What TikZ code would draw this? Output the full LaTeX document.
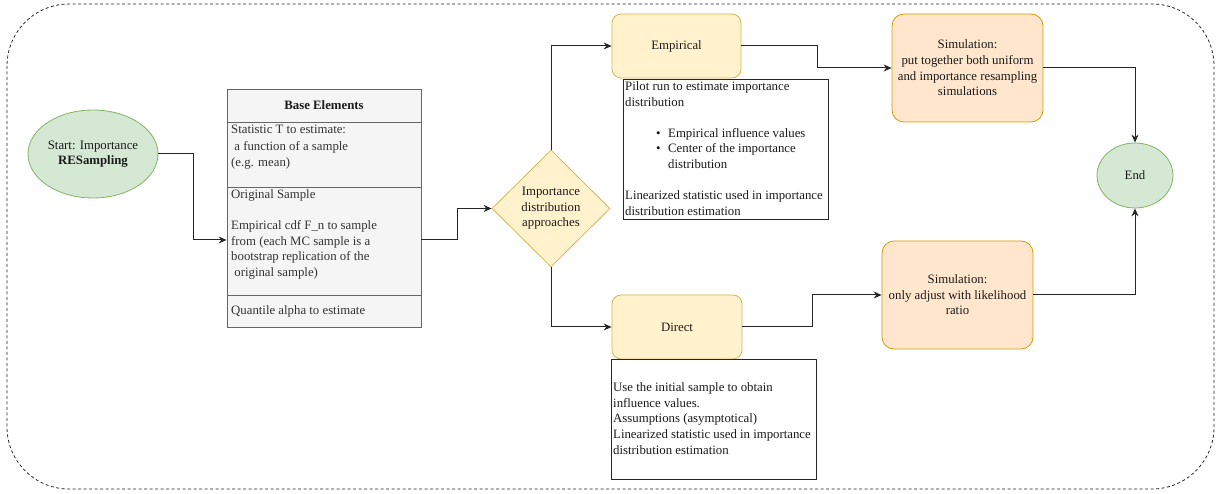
\documentclass[tikz,border=0pt]{standalone}
\usepackage{fontspec}
\setmainfont{Liberation Serif}
\usetikzlibrary{arrows.meta,shapes.geometric}
\hyphenpenalty=10000
\exhyphenpenalty=10000
\definecolor{gfill}{HTML}{D5E8D4}
\definecolor{gline}{HTML}{82B366}
\definecolor{yfill}{HTML}{FFF2CC}
\definecolor{yline}{HTML}{D6B656}
\definecolor{ofill}{HTML}{FFE6CC}
\definecolor{oline}{HTML}{D79B00}
\definecolor{tfill}{HTML}{F5F5F5}
\definecolor{tline}{HTML}{666666}
\definecolor{ttext}{HTML}{333333}
\definecolor{ctext}{HTML}{1A1A1A}
\tikzset{
  every node/.style={font=\fontsize{12.8}{15.6}\selectfont, text=ctext},
  ell/.style={ellipse, draw=gline, fill=gfill, line width=0.8pt, inner sep=0pt, align=center},
  ybox/.style={rectangle, rounded corners=9pt, draw=yline, fill=yfill, line width=0.8pt, inner sep=0pt, align=center},
  obox/.style={rectangle, rounded corners=12pt, draw=oline, fill=ofill, line width=0.8pt, inner sep=0pt, align=center},
  sec/.style={rectangle, draw=tline, fill=tfill, line width=0.8pt, minimum width=194pt, inner sep=0pt},
  ttxt/.style={anchor=west, align=left, inner sep=0pt, text=ttext},
  ntxt/.style={anchor=west, align=left, inner sep=0pt},
  note/.style={rectangle, draw=black!85, fill=white, line width=0.8pt, inner sep=0pt},
  conn/.style={draw=black!85, line width=1pt, -{Stealth[length=8pt,width=7pt]}},
}
\begin{document}
\begin{tikzpicture}[x=1pt,y=-1pt]
\useasboundingbox (0,0) rectangle (1219,494);
\draw[dash pattern=on 3pt off 2.5pt, draw=black!85, line width=0.8pt, rounded corners=62pt] (7,4) rectangle (1214,489);

% start
\node[ell, minimum width=130pt, minimum height=88pt] (start) at (93,154) {Start: Importance\\\textbf{RESampling}};

% table
\node[sec, minimum height=33pt] (hdr) at (324,105.5) {\textbf{Base Elements}};
\node[sec, minimum height=65pt] (s1) at (324,154.5) {};
\node[sec, minimum height=108pt] (s2) at (324,241) {};
\node[sec, minimum height=32pt] (s3) at (324,311) {};
\node[ttxt] (s1t) at (231,147.5) {Statistic T to estimate:\\[0.8pt]\ a function of a sample\\[0.8pt](e.g. mean)};
\node[ttxt] (s2t) at (231,234.5) {Original Sample\\[15pt]Empirical cdf F\_n to sample\\from (each MC sample is a\\bootstrap replication of the\\\ original sample)};
\node[ttxt] (s3t) at (231,311) {Quantile alpha to estimate};

% diamond
\node[diamond, draw=yline, fill=yfill, line width=0.8pt, minimum width=118pt, minimum height=117pt, inner sep=0pt, align=center] (dia) at (551,208.5) {Importance\\distribution\\approaches};

% empirical
\node[ybox, minimum width=129pt, minimum height=64pt] (emp) at (676.5,46) {Empirical};
\node[note, minimum width=205pt, minimum height=140pt] (empn) at (725.5,149) {};
\node[ntxt] (empt) at (625,148.5) {Pilot run to estimate importance\\distribution\\[15.6pt]\hspace*{31pt}\makebox[12pt][l]{\textbullet}Empirical influence values\\\hspace*{31pt}\makebox[12pt][l]{\textbullet}Center of the importance\\\hspace*{43pt}distribution\\[15.6pt]Linearized statistic used in importance\\distribution estimation};

% direct
\node[ybox, minimum width=130pt, minimum height=64pt] (dir) at (677,327) {Direct};
\node[note, minimum width=205pt, minimum height=120pt] (dirn) at (713.5,419) {};
\node[ntxt] (dirt) at (613,418.5) {Use the initial sample to obtain\\influence values.\\Assumptions (asymptotical)\\Linearized statistic used in importance\\distribution estimation};

% simulations
\node[obox, minimum width=151pt, minimum height=108pt] (sim1) at (967.5,68) {Simulation:\\put together both uniform\\and importance resampling\\simulations};
\node[obox, minimum width=151pt, minimum height=108pt] (sim2) at (957.5,295) {Simulation:\\only adjust with likelihood\\ratio};

% end
\node[ell, minimum width=76pt, minimum height=65pt] (end) at (1135,175.5) {End};

% connectors
\draw[conn] (start.east) -- (193,154) |- (s2.west |- 0,240);
\draw[conn] (s2.east |- 0,240) -- (457,240) |- (dia.west);
\draw[conn] (dia.north) |- (emp.west);
\draw[conn] (dia.south) |- (dir.west);
\draw[conn] (emp.east) -- (817,46) |- (sim1.west);
\draw[conn] (dir.east) -- (812,327) |- (sim2.west);
\draw[conn] (sim1.east) -| (end.north);
\draw[conn] (sim2.east) -| (end.south);
\end{tikzpicture}
\end{document}
